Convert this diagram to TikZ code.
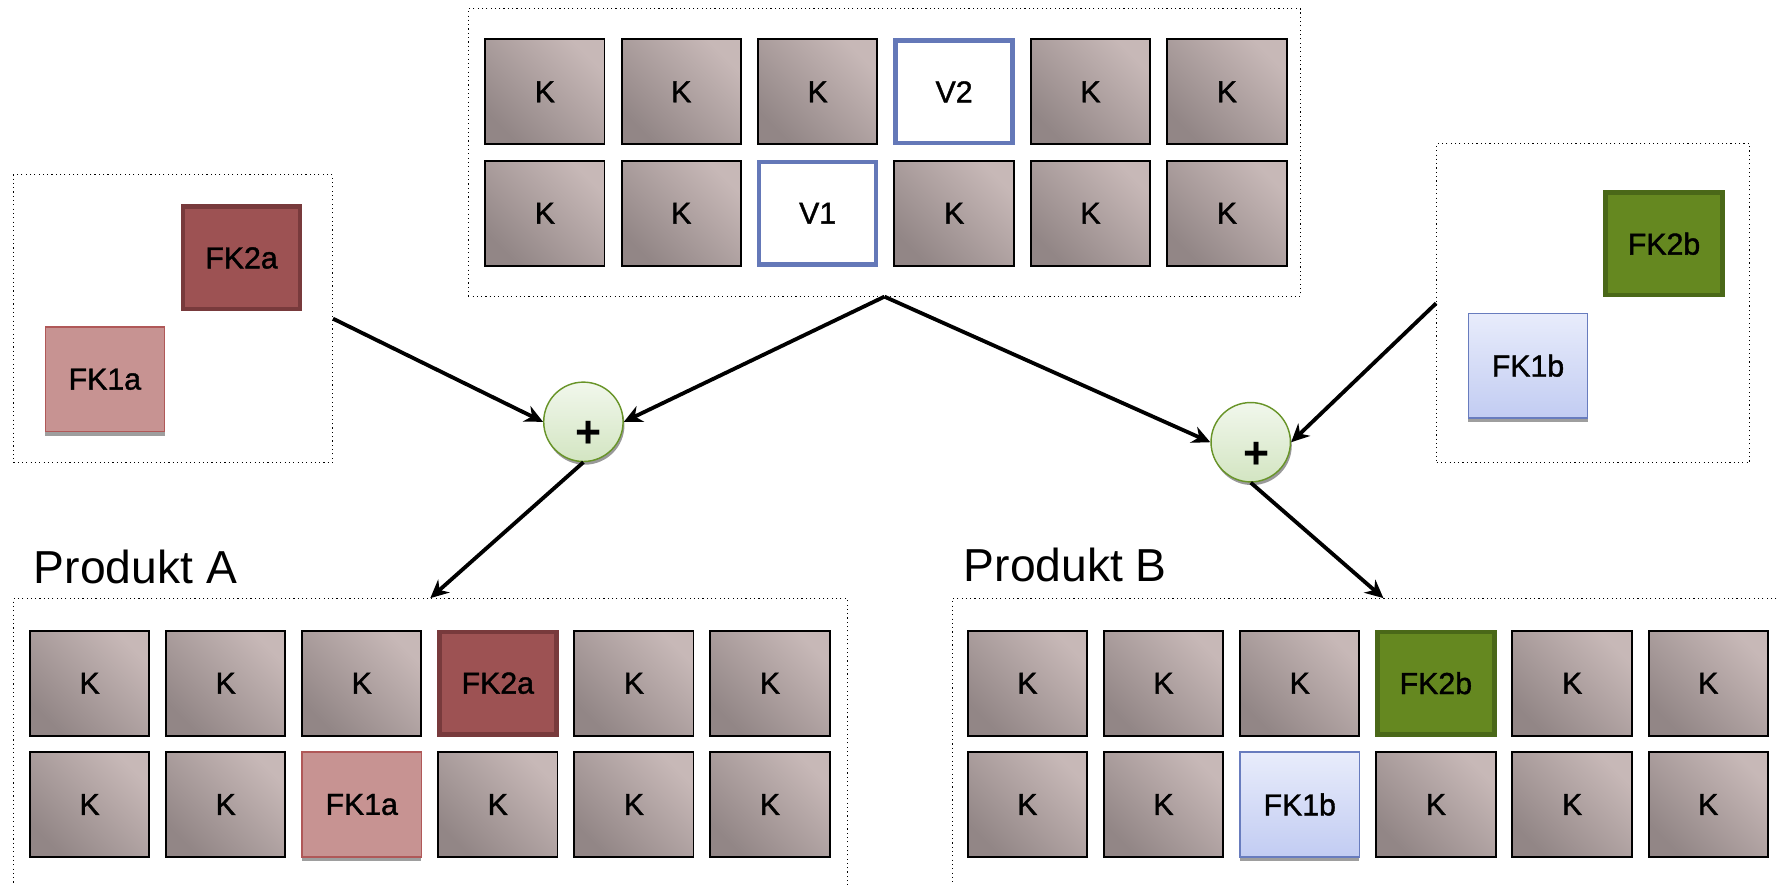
\documentclass[tikz,border=0pt]{standalone}
\usepackage{fontspec}
\setmainfont{Liberation Sans}
\newfontfamily\boxfont{Liberation Sans}[FakeBold=1.3]
\usetikzlibrary{arrows.meta,shadows}

\definecolor{kdark}{RGB}{146,134,134}
\definecolor{klight}{RGB}{199,184,183}
\definecolor{fkzweiafill}{RGB}{157,82,83}
\definecolor{fkzweialine}{RGB}{120,58,60}
\definecolor{fkeinsafill}{RGB}{199,147,146}
\definecolor{fkeinsaline}{RGB}{176,88,88}
\definecolor{fkzweibfill}{RGB}{101,136,32}
\definecolor{fkzweibline}{RGB}{74,104,24}
\definecolor{fkeinsbtop}{RGB}{232,236,251}
\definecolor{fkeinsbbottom}{RGB}{194,204,242}
\definecolor{fkeinsbline}{RGB}{104,124,190}
\definecolor{vblue}{RGB}{100,120,184}
\definecolor{plustop}{RGB}{241,247,236}
\definecolor{plusbottom}{RGB}{211,229,194}
\definecolor{plusline}{RGB}{104,148,40}

\begin{document}
\begin{tikzpicture}[x = 0.025cm, y = -0.025cm,
	box/.style = {minimum width = 2.63cm, minimum height = 2.31cm, inner sep = 0pt, font = \boxfont\fontsize{19}{19}\selectfont},
	kbox/.style = {box, draw = black, line width = 1.2pt, bottom color = kdark, top color = klight, shading angle = -45},
	vbox/.style = {box, draw = vblue, line width = 2.8pt, fill = white, minimum width = 2.58cm, minimum height = 2.26cm},
	fk2a/.style = {box, draw = fkzweialine, line width = 2.8pt, fill = fkzweiafill, minimum width = 2.58cm, minimum height = 2.26cm},
	fk1a/.style = {box, draw = fkeinsaline, line width = 0.8pt, fill = fkeinsafill, drop shadow = {shadow xshift = 0pt, shadow yshift = -0.09cm, fill = black!38, opacity = 1}},
	fk2b/.style = {box, draw = fkzweibline, line width = 2.8pt, fill = fkzweibfill, minimum width = 2.58cm, minimum height = 2.26cm},
	fk1b/.style = {box, draw = fkeinsbline, line width = 0.8pt, top color = fkeinsbtop, bottom color = fkeinsbbottom, drop shadow = {shadow xshift = 0pt, shadow yshift = -0.09cm, fill = black!38, opacity = 1}},
	frame/.style = {draw, dotted, line width = 0.7pt, inner sep = 0pt},
	plus/.style = {circle, draw = plusline, line width = 0.9pt, top color = plustop, bottom color = plusbottom, minimum size = 1.75cm, inner sep = 0pt,
		drop shadow = {shadow xshift = 0.03cm, shadow yshift = -0.07cm, fill = black!40, opacity = 1},
		label = {[xshift = 0.12cm, yshift = -0.28cm, font = \fontsize{28}{28}\selectfont\bfseries]center:+}},
	arr/.style = {-{Stealth[length = 4mm, width = 3.8mm, inset = 1.3mm]}, line width = 2.4pt, black},
	titel/.style = {anchor = base west, font = \fontsize{29}{29}\selectfont}]
	%	picture size
	\clip (0, 0) rectangle (1568, 780);
	
	%	frames
	\node[frame, minimum width = 18.35cm, minimum height = 6.33cm] (top) at (780, 134.5) {};
	\node[frame, minimum width = 7.03cm, minimum height = 6.35cm] (lbox) at (152.5, 281) {};
	\node[frame, minimum width = 6.9cm, minimum height = 7.03cm] (rbox) at (1405, 267.5) {};
	\node[frame, minimum width = 18.38cm, minimum height = 7.3cm] (abox) at (379.5, 674) {};
	\node[frame, minimum width = 19cm, minimum height = 7.3cm] (bbox) at (1220, 674) {};
	
	%	top grid
	\foreach \txt/\sty [count = \c] in {K/kbox, K/kbox, K/kbox, V2/vbox, K/kbox, K/kbox}
		\node[\sty] (t1\c) at ({480.5 + (\c - 1)*120.3}, 81) {\txt};
	\foreach \txt/\sty [count = \c] in {K/kbox, K/kbox, V1/vbox, K/kbox, K/kbox, K/kbox}
		\node[\sty] (t2\c) at ({480.5 + (\c - 1)*120.3}, 188) {\txt};
	
	%	features
	\node[fk2a] (fka2) at (213, 227.5) {FK2a};
	\node[fk1a] (fka1) at (92.5, 334.5) {FK1a};
	\node[fk2b] (fkb2) at (1467.5, 215) {FK2b};
	\node[fk1b] (fkb1) at (1347.5, 322.5) {FK1b};
	
	%	plus
	\node[plus] (pa) at (514.5, 372) {};
	\node[plus] (pb) at (1103, 390) {};
	
	%	produkt A
	\node[titel] (ta) at (25, 515) {Produkt A};
	\foreach \txt/\sty [count = \c] in {K/kbox, K/kbox, K/kbox, FK2a/fk2a, K/kbox, K/kbox}
		\node[\sty] (a1\c) at ({79 + (\c - 1)*120}, 602.5) {\txt};
	\foreach \txt/\sty [count = \c] in {K/kbox, K/kbox, FK1a/fk1a, K/kbox, K/kbox, K/kbox}
		\node[\sty] (a2\c) at ({79 + (\c - 1)*120}, 709.5) {\txt};
	
	%	produkt B
	\node[titel] (tb) at (845, 513) {Produkt B};
	\foreach \txt/\sty [count = \c] in {K/kbox, K/kbox, K/kbox, FK2b/fk2b, K/kbox, K/kbox}
		\node[\sty] (b1\c) at ({906 + (\c - 1)*120.1}, 602.5) {\txt};
	\foreach \txt/\sty [count = \c] in {K/kbox, K/kbox, FK1b/fk1b, K/kbox, K/kbox, K/kbox}
		\node[\sty] (b2\c) at ({906 + (\c - 1)*120.1}, 709.5) {\txt};
	
	%	arrows
	\draw[arr] (lbox.east) -- (pa.west);
	\draw[arr] (top.south) -- (pa.east);
	\draw[arr] (top.south) -- (pb.west);
	\draw[arr] (rbox.west) -- (pb.east);
	\draw[arr] (pa.south) -- (abox.north);
	\draw[arr] (pb.south) -- (bbox.north);
\end{tikzpicture}
\end{document}
